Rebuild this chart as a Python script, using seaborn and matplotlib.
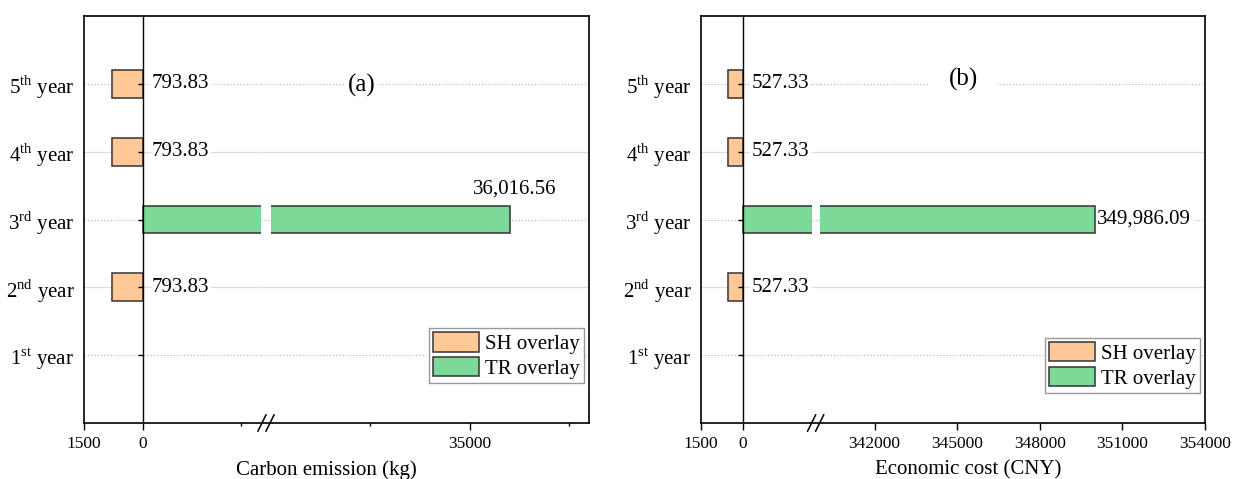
import numpy as np
import pandas as pd
import seaborn as sns
import matplotlib.pyplot as plt
from matplotlib.patches import Patch

# categories, top to bottom
years = ['5th', '4th', '3rd', '2nd', '1st']
year_labels = ['5$^{\\mathrm{th}}$ year', '4$^{\\mathrm{th}}$ year', '3$^{\\mathrm{rd}}$ year',
               '2$^{\\mathrm{nd}}$ year', '1$^{\\mathrm{st}}$ year']
sh_years = ['5th', '4th', '2nd']
tr_year = '3rd'

# (a) carbon emission, kg
carbon_sh = [793.83, 793.83, 793.83]
carbon_tr = 36016.56
# (b) economic cost, CNY
cost_sh = [527.33, 527.33, 527.33]
cost_tr = 349986.09

series = ['SH overlay', 'TR overlay']
colors = ['#FFC896', '#7DD998']

plt.rcParams['font.family'] = ['Liberation Serif', 'DejaVu Serif']
plt.rcParams['mathtext.fontset'] = 'custom'
plt.rcParams['mathtext.rm'] = 'Liberation Serif'


def draw_panel(ax, sh_vals, tr_val, xp, fp, major, major_labels, minor, xlabel, tag,
               label_x, legend_y, tr_label_above, tag_pad):
    # SH bars go to the left of zero
    df = pd.DataFrame({
        'year': sh_years + [tr_year],
        'value': [-v for v in sh_vals] + [tr_val],
        'kind': [series[0]] * len(sh_vals) + [series[1]],
    })
    sns.barplot(data=df, x='value', y='year', hue='kind', order=years, hue_order=series,
                palette=colors, saturation=1, dodge=False, width=0.41, orient='h',
                edgecolor='#333333', linewidth=1.1, errorbar=None, legend=False,
                ax=ax, zorder=2)

    # broken x axis as a piecewise linear scale
    ax.set_xscale('function', functions=(lambda x: np.interp(x, xp, fp),
                                         lambda y: np.interp(y, fp, xp)))
    ax.set_xlim(xp[0], xp[-1])
    ax.set_ylim(5, -1)

    for i in range(len(years)):
        style = ':' if i % 2 == 0 else '-'
        col = '#bdbdbd' if i % 2 == 0 else '#dcdcdc'
        ax.axhline(i, color=col, ls=style, lw=0.9, zorder=0.5)
        ax.hlines(i, xp[1], xp[2], color=col, ls=style, lw=0.9, zorder=2.45)
    ax.axvspan(xp[1], xp[2], color='white', lw=0, zorder=2.4)

    ax.axvline(0, color='black', lw=1, zorder=3)
    ax.plot(np.zeros(len(years)), range(len(years)), ls='none', marker=0, ms=3.5,
            mew=1, color='black', zorder=3)

    ax.set_xticks(major)
    ax.set_xticklabels(major_labels)
    ax.set_xticks(minor, minor=True)
    ax.set_yticks(range(len(years)))
    ax.set_yticklabels(year_labels)
    ax.tick_params(axis='x', which='major', direction='out', length=5, width=1,
                   labelsize=12.5, pad=4)
    ax.tick_params(axis='x', which='minor', direction='out', length=2.5, width=1)
    ax.tick_params(axis='y', length=0, labelsize=15, pad=7)
    for s in ax.spines.values():
        s.set_linewidth(1.2)
        s.set_color('black')

    ax.set_xlabel(xlabel, fontsize=15)
    ax.set_ylabel('')
    ax.xaxis.set_label_coords(label_x, -0.092)

    # break marks on the bottom spine
    xc = (fp[1] + fp[2]) / 2 / fp[-1]
    for dx in (-0.008, 0.008):
        ax.plot([xc + dx - 0.008, xc + dx + 0.008], [-0.02, 0.02], color='black',
                lw=1.1, transform=ax.transAxes, clip_on=False, zorder=5)

    for yr, v in zip(sh_years, sh_vals):
        ax.annotate(f'{v:.2f}', xy=(0, years.index(yr)), xytext=(6.5, 0),
                    textcoords='offset points', ha='left', va='center', fontsize=15,
                    bbox=dict(fc='white', ec='none', pad=1), zorder=4)
    if tr_label_above:
        ax.annotate(f'{tr_val:,.2f}', xy=(tr_val, years.index(tr_year)), xytext=(3, 22),
                    textcoords='offset points', ha='center', va='center', fontsize=15,
                    zorder=4)
    else:
        ax.annotate(f'{tr_val:,.2f}', xy=(tr_val, years.index(tr_year)), xytext=(2, 0),
                    textcoords='offset points', ha='left', va='center', fontsize=15,
                    bbox=dict(fc='white', ec='none', pad=1), zorder=4)

    ax.text(tag[1], tag[2], tag[0], transform=ax.transAxes, ha='center', va='center',
            fontsize=18, bbox=dict(fc='white', ec='none', pad=tag_pad), zorder=4)

    handles = [Patch(fc=c, ec='#333333', lw=1.1, label=s) for c, s in zip(colors, series)]
    ax.legend(handles=handles, loc='lower right', bbox_to_anchor=(0.99, legend_y),
              fontsize=15, frameon=True, fancybox=False, edgecolor='#999999',
              framealpha=1, handlelength=2.2, handleheight=1.05, labelspacing=0.15,
              borderpad=0.2, handletextpad=0.3, borderaxespad=0)


fig = plt.figure(figsize=(12.4, 4.79), dpi=100)
ax_a = fig.add_axes([84 / 1240, 56 / 479, 505 / 1240, 407 / 479])
ax_b = fig.add_axes([701 / 1240, 56 / 479, 504 / 1240, 407 / 479])

draw_panel(ax_a, carbon_sh, carbon_tr,
           xp=[-1500, 3000, 30000, 38000], fp=[0, 177, 187, 505],
           major=[-1500, 0, 35000], major_labels=['1500', '0', '35000'],
           minor=[2500, 32500, 37500], xlabel='Carbon emission (kg)',
           tag=('(a)', 0.55, 0.83), label_x=0.48, legend_y=0.098,
           tr_label_above=True, tag_pad=1)

draw_panel(ax_b, cost_sh, cost_tr,
           xp=[-1500, 2500, 340000, 354000], fp=[0, 110.7, 118.6, 504],
           major=[-1500, 0, 342000, 345000, 348000, 351000, 354000],
           major_labels=['1500', '0', '342000', '345000', '348000', '351000', '354000'],
           minor=[], xlabel='Economic cost (CNY)',
           tag=('(b)', 0.52, 0.843), label_x=0.53, legend_y=0.074,
           tr_label_above=False, tag_pad=14)

fig.savefig('out.png', dpi=100)
